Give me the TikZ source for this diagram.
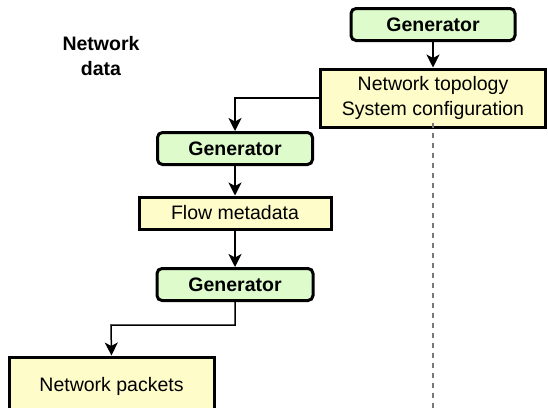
\documentclass[tikz,border=0pt]{standalone}
\usepackage{fontspec}
\setmainfont{Liberation Sans}
\usetikzlibrary{arrows.meta}
\definecolor{genfill}{RGB}{221,251,203}
\definecolor{datafill}{RGB}{254,252,200}
\definecolor{dashgray}{RGB}{120,120,120}
\tikzset{
  gen/.style={draw=black, line width=3pt, rounded corners=5pt, fill=genfill,
    minimum height=32pt, inner sep=0pt, font=\fontsize{19.5}{25}\selectfont\bfseries},
  datum/.style={draw=black, line width=3pt, fill=datafill, inner sep=0pt,
    align=center, font=\fontsize{19.5}{25}\selectfont},
  flow/.style={draw=black, line width=1.5pt, -{Stealth[length=13pt,width=13pt,inset=3.5pt]}},
  lane/.style={draw=dashgray, line width=1.6pt, dash pattern=on 5pt off 5pt}
}
\begin{document}
\begin{tikzpicture}[x=1pt, y=-1pt]
\useasboundingbox (0,0) rectangle (548,407);
% heading
\node[align=center, font=\fontsize{19.5}{25}\selectfont\bfseries] (head) at (101,56) {Network\\data};
% upper chain
\node[gen, minimum width=164pt] (g1) at (433,24.5) {Generator};
\node[datum, minimum width=225pt, minimum height=58pt] (topo) at (433,98) {Network topology\\System configuration};
% middle chain
\node[gen, minimum width=155pt] (g2) at (235,148.5) {Generator};
\node[datum, minimum width=192pt, minimum height=32pt] (fm) at (235,213) {Flow metadata};
\node[gen, minimum width=156pt] (g3) at (235,284.5) {Generator};
% packets box runs past the lower edge
\node[datum, minimum width=205pt, minimum height=58pt] (pk) at (111.5,386) {Network packets};
% connectors
\coordinate (bend) at (111,325);
\coordinate (dend) at (433,412);
\draw[flow] (g1) -- (topo);
\draw[flow] (topo.west) -| (g2.north);
\draw[flow] (g2) -- (fm);
\draw[flow] (fm) -- (g3);
\draw[flow] (g3.south) |- (bend) -- (pk.north);
\draw[lane] ([yshift=6pt]topo.south) -- (dend);
\end{tikzpicture}
\end{document}
